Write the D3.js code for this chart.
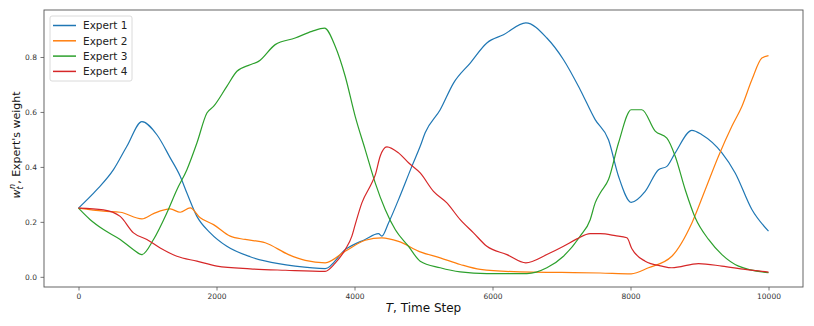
<!DOCTYPE html>
<html>
<head>
<meta charset="utf-8">
<script src="https://cdn.jsdelivr.net/npm/d3@7"></script>
<style>
  body { margin: 0; background: #fff; }
  svg { display: block; font-family: "DejaVu Sans", sans-serif; }
</style>
</head>
<body>
<div id="chart"></div>
<script>
// [time step, weight]
var expert1 = [[0,0.25],[266,0.317],[507,0.39],[701,0.475],[919,0.565],[1136,0.517],[1329,0.433],[1474,0.366],[1571,0.305],[1716,0.22],[1909,0.16],[2150,0.111],[2488,0.073],[2899,0.048],[3140,0.039],[3575,0.030],[3865,0.099],[4155,0.136],[4348,0.157],[4396,0.148],[4493,0.196],[4638,0.281],[4831,0.402],[4952,0.475],[5024,0.524],[5242,0.608],[5435,0.705],[5677,0.778],[5918,0.851],[6159,0.881],[6483,0.924],[6788,0.869],[7029,0.79],[7271,0.681],[7488,0.572],[7681,0.499],[7826,0.366],[8010,0.271],[8213,0.311],[8406,0.39],[8527,0.402],[8648,0.451],[8890,0.533],[9035,0.517],[9325,0.451],[9517,0.378],[9759,0.245],[10000,0.166]];
var expert2 = [[0,0.25],[362,0.239],[604,0.235],[919,0.211],[1087,0.23],[1329,0.247],[1474,0.235],[1619,0.251],[1764,0.215],[1957,0.19],[2199,0.148],[2416,0.136],[2706,0.124],[3044,0.081],[3286,0.06],[3575,0.051],[3865,0.093],[4155,0.133],[4397,0.142],[4638,0.129],[4952,0.091],[5242,0.069],[5532,0.045],[5822,0.027],[6401,0.018],[7000,0.016],[7561,0.014],[8010,0.011],[8261,0.033],[8599,0.075],[8890,0.196],[9083,0.317],[9275,0.439],[9469,0.548],[9614,0.62],[9759,0.717],[9904,0.796],[10000,0.805]];
var expert3 = [[0,0.25],[170,0.208],[362,0.172],[604,0.136],[797,0.099],[919,0.081],[1087,0.136],[1281,0.233],[1426,0.317],[1571,0.39],[1716,0.487],[1861,0.596],[1957,0.62],[2150,0.693],[2296,0.748],[2488,0.772],[2609,0.784],[2851,0.845],[3140,0.869],[3382,0.893],[3565,0.905],[3720,0.839],[3865,0.73],[4010,0.584],[4155,0.463],[4300,0.342],[4445,0.245],[4590,0.172],[4783,0.111],[4952,0.057],[5242,0.033],[5532,0.018],[5918,0.012],[6498,0.012],[6788,0.033],[7029,0.075],[7271,0.148],[7416,0.208],[7488,0.269],[7561,0.305],[7681,0.354],[7826,0.487],[8010,0.608],[8165,0.608],[8358,0.53],[8527,0.505],[8648,0.439],[8793,0.317],[8938,0.215],[9131,0.136],[9325,0.081],[9566,0.039],[10000,0.015]];
var expert4 = [[0,0.25],[362,0.244],[604,0.22],[797,0.16],[991,0.136],[1184,0.105],[1426,0.075],[1716,0.057],[2006,0.039],[2488,0.029],[3000,0.024],[3575,0.02],[3720,0.05],[3865,0.099],[3962,0.148],[4010,0.19],[4107,0.269],[4252,0.342],[4300,0.37],[4372,0.439],[4469,0.473],[4638,0.451],[4783,0.415],[4952,0.378],[5145,0.311],[5339,0.269],[5532,0.208],[5725,0.16],[5918,0.111],[6209,0.081],[6483,0.051],[6788,0.081],[7029,0.111],[7223,0.138],[7416,0.157],[7561,0.157],[7778,0.15],[7947,0.142],[8020,0.102],[8213,0.057],[8455,0.039],[8599,0.033],[8986,0.048],[9325,0.039],[9662,0.027],[10000,0.017]];

var seriesNames = ["Expert 1", "Expert 2", "Expert 3", "Expert 4"];
var seriesData = [expert1, expert2, expert3, expert4];
var colors = ["#1f77b4", "#ff7f0e", "#2ca02c", "#d62728"];
var xTicks = [0, 2000, 4000, 6000, 8000, 10000];
var yTicks = [0.0, 0.2, 0.4, 0.6, 0.8];

var width = 814, height = 326;
var margin = { left: 44, right: 11, top: 10, bottom: 39 };

var svg = d3.select("#chart").append("svg")
    .attr("width", width)
    .attr("height", height);

var xScale = d3.scaleLinear().domain([-500, 10500]).range([margin.left, width - margin.right]);
var yScale = d3.scaleLinear().domain([-0.037, 0.971]).range([height - margin.bottom, margin.top]);

var xAxis = d3.axisBottom(xScale).tickValues(xTicks).tickSize(3.5).tickPadding(3.5).tickFormat(d3.format("d"));
var yAxis = d3.axisLeft(yScale).tickValues(yTicks).tickSize(3.5).tickPadding(3.5).tickFormat(d3.format(".1f"));

var line = d3.line()
    .curve(d3.curveMonotoneX)
    .x(function (d) { return xScale(d[0]); })
    .y(function (d) { return yScale(d[1]); });

var plot = svg.append("g").attr("class", "lines");
seriesData.forEach(function (s, i) {
    plot.append("path")
        .datum(s)
        .attr("d", line)
        .attr("fill", "none")
        .attr("stroke", colors[i])
        .attr("stroke-width", 1.2)
        .attr("stroke-linejoin", "round");
});

svg.append("g")
    .attr("class", "x axis")
    .attr("transform", "translate(0," + (height - margin.bottom) + ")")
    .call(xAxis);
svg.append("g")
    .attr("class", "y axis")
    .attr("transform", "translate(" + margin.left + ",0)")
    .call(yAxis);

svg.selectAll(".axis .domain").remove();
svg.selectAll(".axis line").attr("stroke", "#555").attr("stroke-width", 0.8);
svg.selectAll(".axis text")
    .attr("fill", "#333")
    .style("font-family", "DejaVu Sans, sans-serif")
    .style("font-size", "7.5px");

// frame
svg.append("rect")
    .attr("x", margin.left)
    .attr("y", margin.top)
    .attr("width", width - margin.left - margin.right)
    .attr("height", height - margin.top - margin.bottom)
    .attr("fill", "none")
    .attr("stroke", "#555")
    .attr("stroke-width", 0.9);

// x label
var xl = svg.append("text")
    .attr("x", (margin.left + width - margin.right) / 2)
    .attr("y", 312)
    .attr("text-anchor", "middle")
    .attr("fill", "#111")
    .style("font-size", "12px");
xl.append("tspan").attr("font-style", "italic").text("T");
xl.append("tspan").text(", Time Step");

// y label
var yl = svg.append("text")
    .attr("transform", "translate(20,145) rotate(-90)")
    .attr("text-anchor", "middle")
    .attr("fill", "#111")
    .style("font-size", "11px");
yl.append("tspan").attr("font-style", "italic").text("w");
yl.append("tspan").attr("font-style", "italic").attr("font-size", "8px").attr("dy", 3).text("t");
yl.append("tspan").attr("font-style", "italic").attr("font-size", "8px").attr("dx", -2.5).attr("dy", -8).text("n");
yl.append("tspan").attr("dy", 5).text(", Expert's weight");

// legend
var legend = svg.append("g").attr("class", "legends").attr("transform", "translate(50,16)");
legend.append("rect")
    .attr("width", 82)
    .attr("height", 65)
    .attr("rx", 2)
    .attr("fill", "#fff")
    .attr("fill-opacity", 0.8)
    .attr("stroke", "#d0d0d0")
    .attr("stroke-width", 0.8);
seriesNames.forEach(function (name, i) {
    var gy = 9.5 + i * 15.3;
    legend.append("line")
        .attr("x1", 3).attr("x2", 26)
        .attr("y1", gy).attr("y2", gy)
        .attr("stroke", colors[i])
        .attr("stroke-width", 1.5);
    legend.append("text")
        .attr("x", 33)
        .attr("y", gy)
        .attr("dy", "0.36em")
        .attr("fill", "#222")
        .style("font-size", "10.5px")
        .text(name);
});
</script>
</body>
</html>
